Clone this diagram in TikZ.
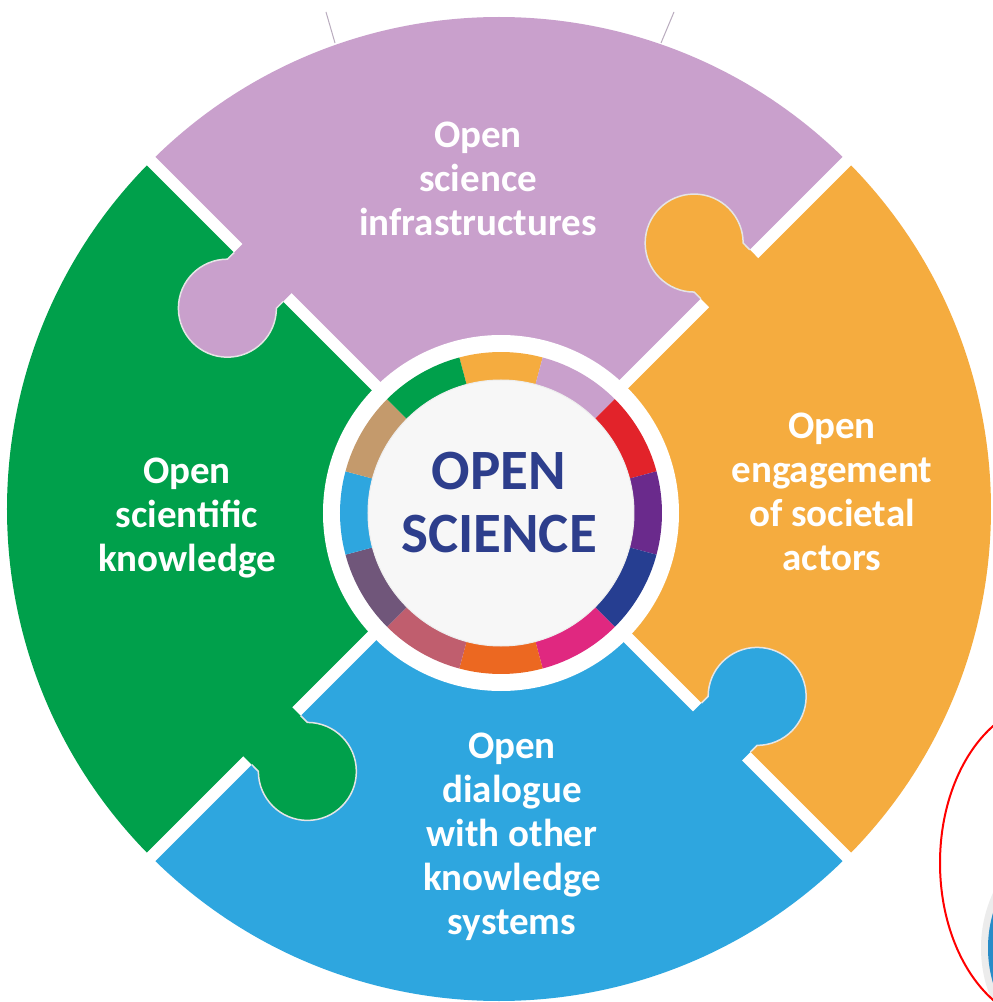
\documentclass[tikz,border=0pt]{standalone}
\usepackage{fontspec}
\newfontfamily\puzzlefont{Carlito}
\definecolor{pieceLilac}{RGB}{201,160,204}
\definecolor{pieceOrange}{RGB}{245,172,63}
\definecolor{pieceGreen}{RGB}{0,160,75}
\definecolor{pieceBlue}{RGB}{46,166,223}
\definecolor{ringRed}{RGB}{226,35,42}
\definecolor{ringViolet}{RGB}{106,42,140}
\definecolor{ringNavy}{RGB}{38,62,145}
\definecolor{ringMagenta}{RGB}{224,40,128}
\definecolor{ringRust}{RGB}{236,104,33}
\definecolor{ringRose}{RGB}{192,94,110}
\definecolor{ringMauve}{RGB}{112,86,122}
\definecolor{ringTan}{RGB}{196,154,108}
\definecolor{coreBlue}{RGB}{45,62,140}
\definecolor{coreWhite}{RGB}{247,247,247}
\definecolor{wireGray}{RGB}{185,172,190}
\definecolor{sideBlue}{RGB}{40,140,200}

\begin{document}
\begin{tikzpicture}[x=1pt,y=1pt]
	\tikzstyle{Label} = [text=white, align=center, font=\puzzlefont\bfseries\fontsize{39}{44}\selectfont]
	\tikzstyle{CoreText} = [text=coreBlue, align=center, font=\puzzlefont\bfseries\fontsize{57}{63}\selectfont]
	\tikzstyle{Core} = [circle, fill=coreWhite, draw=black!7, line width=1pt, minimum size=266pt, inner sep=0pt]
	\tikzstyle{Gap} = [white, line width=12pt]
	\tikzstyle{KnobLine} = [white!80!gray, line width=1.5pt]
	\useasboundingbox (-499,-493) rectangle (494,509);
	\clip (-499,-493) rectangle (494,509);
	\fill[white] (-499,-493) rectangle (494,509);
	% the four pieces
	\foreach \a/\col in {-45/pieceOrange, 45/pieceLilac, 135/pieceGreen, 225/pieceBlue}
		\fill[\col] (0,0) -- (\a:492) arc[start angle=\a, delta angle=90, radius=492] -- cycle;
	\foreach \a in {45,135,225,315}
		\draw[Gap] (\a:150) -- (\a:510);
	% knobs, each one reaching into the next piece
	\foreach \a/\col/\c in {45/pieceOrange/326, 135/pieceLilac/334, 225/pieceGreen/321, 315/pieceBlue/315} {
		\begin{scope}[rotate=\a]
			\fill[\col] ({\c-34.6},-7) -- ({\c-34.6},15.4) arc[start angle=225, end angle=-45, radius=49] -- ({\c+34.6},-7) -- cycle;
			\draw[KnobLine] ({\c-34.6},6) -- ({\c-34.6},15.4) arc[start angle=225, end angle=-45, radius=49] -- ({\c+34.6},6);
		\end{scope}
	}
	% centre ring
	\fill[white] (2,-4) circle[radius=178];
	\begin{scope}[shift={(2,-4)}]
		\foreach \col [count=\i from 0] in {pieceOrange, pieceLilac, ringRed, ringViolet, ringNavy, ringMagenta, ringRust, ringRose, ringMauve, pieceBlue, ringTan, pieceGreen} {
			\pgfmathsetmacro\a{90-30*\i}
			\fill[\col] ({\a-15}:161) arc[start angle=\a-15, end angle=\a+15, radius=161] -- ({\a+15}:133) arc[start angle=\a+15, end angle=\a-15, radius=133] -- cycle;
		}
	\end{scope}
	\node[Core] (core) at (2,-4) {};
	\node[CoreText] (coretxt) at (0,6) {OPEN\\SCIENCE};
	\node[Label] (infra) at (-21,330) {Open\\science\\infrastructures};
	\node[Label] (engage) at (333,17) {Open\\engagement\\of societal\\actors};
	\node[Label] (knowl) at (-312,-9) {Open\\scientific\\knowledge};
	\node[Label] (dialog) at (13,-328) {Open\\dialogue\\with other\\knowledge\\systems};
	% wires above and the cut-off shapes on the right
	\coordinate (wireL) at (-173,497);
	\coordinate (wireLend) at (-164,466);
	\coordinate (wireR) at (175,497);
	\coordinate (wireRend) at (162,466);
	\draw[wireGray, line width=1pt] (wireL) -- (wireLend);
	\draw[wireGray, line width=1pt] (wireR) -- (wireRend);
	\fill[gray!15] (614,-439) circle[radius=132];
	\fill[sideBlue] (614,-439) circle[radius=125];
	\draw[red, line width=2pt] (551,-354) ellipse[x radius=110, y radius=160];
\end{tikzpicture}
\end{document}
